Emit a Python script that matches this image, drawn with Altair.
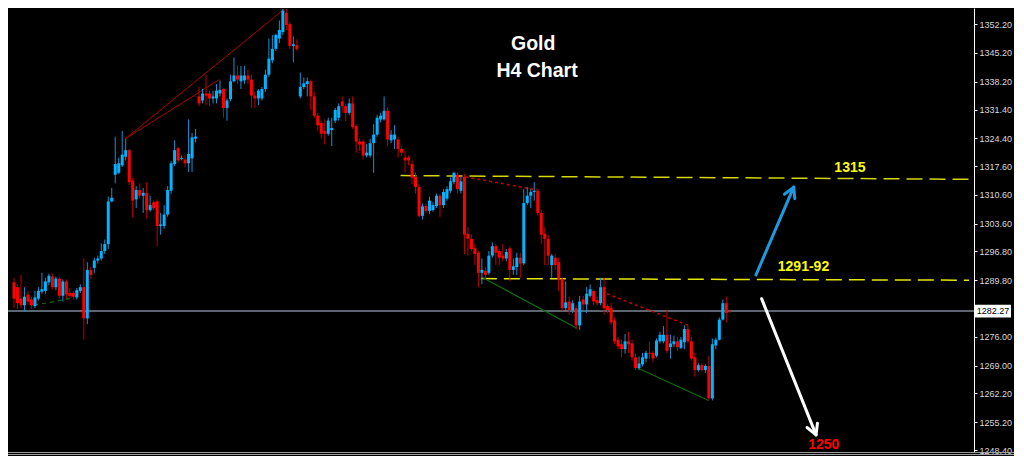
import altair as alt
import pandas as pd

# ---------------- candle data (H4 Gold) ----------------
open_ = [1289.3,1288.1,1285.3,1283.7,1286.3,1285.1,1283.5,1285.3,1287.0,1287.2,
         1289.3,1290.7,1288.1,1290.2,1286.0,1289.5,1286.7,1286.7,1285.6,1287.2,
         1288.1,1280.5,1292.3,1292.8,1294.6,1295.1,1296.9,1298.6,1309.0,1315.5,
         1316.0,1317.8,1319.9,1321.5,1314.1,1309.5,1311.8,1310.4,1311.1,1306.9,
         1308.8,1309.0,1303.0,1303.0,1305.8,1311.6,1318.1,1322.0,1319.4,1319.2,
         1318.3,1319.5,1324.3,1334.6,1333.6,1335.3,1335.3,1334.1,1334.1,1335.3,
         1336.4,1331.8,1333.9,1338.3,1339.7,1338.3,1338.5,1339.7,1338.7,1334.8,
         1334.1,1334.1,1336.4,1339.9,1343.4,1346.2,1348.7,1350.3,1355.0,1352.2,
         1346.9,1347.1,1334.6,1336.9,1337.6,1338.3,1334.6,1329.9,1328.1,1326.2,
         1325.5,1326.4,1328.7,1329.4,1333.4,1332.2,1330.6,1332.9,1327.4,1323.6,
         1323.6,1320.2,1320.2,1323.2,1325.3,1329.0,1329.0,1331.1,1323.9,1324.1,
         1324.1,1321.8,1319.7,1319.7,1318.1,1315.0,1312.5,1305.5,1307.9,1306.7,
         1306.9,1307.9,1310.4,1308.1,1309.7,1311.6,1313.7,1315.5,1311.6,1315.0,
         1301.1,1299.9,1297.6,1296.5,1291.6,1292.1,1291.6,1295.8,1298.1,1296.9,
         1295.8,1295.1,1297.6,1292.3,1293.0,1295.3,1293.9,1308.6,1310.4,1311.3,
         1311.6,1306.2,1301.1,1299.9,1293.5,1295.3,1294.2,1290.0,1283.0,1284.6,
         1282.5,1283.0,1278.8,1285.1,1283.9,1286.0,1287.2,1284.9,1284.2,1288.1,
         1283.5,1283.0,1280.0,1275.3,1274.2,1273.0,1274.9,1274.4,1271.0,1268.4,
         1269.3,1270.7,1272.1,1272.1,1271.4,1274.9,1274.9,1276.5,1273.5,1274.2,
         1274.9,1273.3,1274.7,1277.9,1274.9,1271.0,1267.9,1269.1,1267.9,1268.9,
         1261.0,1273.9,1275.3,1280.2,1284.2,1282.4]

high = [1290.4,1288.8,1291.1,1288.1,1287.2,1285.8,1287.2,1288.1,1291.6,1290.4,
        1291.4,1291.4,1290.7,1290.7,1290.0,1290.0,1287.9,1287.2,1287.9,1288.8,
        1295.1,1294.2,1293.0,1295.3,1295.8,1298.8,1299.7,1310.2,1312.3,1324.8,
        1319.7,1326.2,1324.3,1321.8,1314.8,1312.7,1313.4,1312.3,1313.7,1310.4,
        1309.2,1309.5,1306.2,1308.1,1312.7,1318.8,1323.9,1322.3,1320.2,1320.2,
        1329.0,1325.7,1326.7,1336.9,1336.4,1339.9,1336.0,1336.0,1337.6,1338.5,
        1336.6,1334.1,1339.9,1344.1,1342.2,1342.0,1342.0,1341.1,1339.9,1335.7,
        1336.4,1336.9,1341.1,1348.7,1349.6,1349.9,1353.1,1355.9,1355.9,1352.7,
        1349.2,1348.5,1340.4,1339.2,1339.2,1338.7,1335.7,1330.6,1328.7,1329.0,
        1329.4,1329.4,1331.8,1332.9,1334.6,1332.9,1334.1,1334.6,1327.8,1324.3,
        1324.1,1323.0,1324.3,1327.8,1330.1,1330.6,1334.6,1332.0,1326.4,1327.6,
        1324.8,1322.5,1321.3,1320.2,1319.0,1316.2,1313.2,1308.5,1308.5,1310.2,
        1308.8,1310.9,1310.9,1312.0,1312.7,1314.8,1316.2,1316.0,1315.0,1315.7,
        1302.7,1300.9,1298.6,1296.9,1295.1,1293.0,1296.9,1299.0,1298.6,1297.4,
        1298.6,1297.4,1298.1,1295.1,1296.5,1296.5,1312.0,1312.5,1312.0,1313.7,
        1312.0,1306.9,1302.7,1300.9,1296.2,1296.2,1295.3,1290.4,1289.5,1285.8,
        1284.9,1283.7,1286.0,1286.0,1288.1,1288.8,1287.6,1285.8,1290.4,1290.4,
        1283.9,1284.2,1280.7,1276.0,1275.3,1276.7,1277.2,1275.3,1271.9,1271.2,
        1272.1,1272.6,1274.9,1272.6,1275.6,1277.2,1278.6,1282.6,1276.5,1276.3,
        1276.0,1276.0,1278.8,1278.8,1276.0,1272.1,1269.6,1269.6,1269.3,1271.4,
        1275.6,1275.8,1280.7,1285.1,1285.8,1282.6]

low = [1283.0,1282.8,1283.0,1282.1,1283.9,1282.8,1283.0,1284.9,1286.5,1286.5,
       1288.6,1287.6,1287.4,1285.3,1284.6,1285.3,1285.3,1285.1,1285.1,1286.7,
       1275.3,1279.1,1290.0,1291.6,1293.9,1294.6,1296.2,1297.4,1308.8,1313.4,
       1315.7,1317.4,1319.0,1313.0,1305.1,1307.4,1309.7,1306.2,1304.8,1306.5,
       1306.9,1298.1,1300.9,1302.3,1305.3,1310.9,1317.6,1318.5,1319.0,1317.4,
       1316.2,1316.2,1323.4,1332.2,1332.9,1332.5,1332.2,1332.9,1332.9,1334.6,
       1329.4,1328.7,1333.4,1338.0,1337.6,1336.4,1337.6,1337.6,1331.8,1331.8,
       1332.5,1333.6,1335.7,1339.4,1342.7,1345.7,1347.6,1349.6,1350.8,1346.2,
       1342.9,1345.7,1334.1,1336.4,1334.6,1331.3,1329.4,1326.4,1324.3,1322.9,
       1325.0,1322.5,1328.1,1328.7,1330.6,1328.5,1330.1,1326.7,1320.9,1321.3,
       1319.2,1319.7,1319.7,1316.0,1324.8,1328.3,1328.7,1322.5,1323.2,1321.8,
       1319.7,1320.2,1316.0,1317.8,1313.2,1310.9,1305.1,1304.6,1306.2,1305.9,
       1306.5,1307.4,1305.1,1307.4,1309.2,1311.1,1313.2,1310.9,1310.9,1296.2,
       1295.8,1296.9,1293.5,1288.1,1288.8,1290.0,1291.1,1295.3,1293.5,1293.5,
       1294.4,1294.4,1289.5,1291.1,1291.1,1290.4,1293.5,1308.1,1307.4,1309.2,
       1305.5,1298.6,1293.5,1293.5,1290.4,1292.3,1287.2,1282.3,1282.3,1281.4,
       1281.8,1277.9,1277.7,1282.5,1281.8,1285.6,1283.7,1283.7,1283.7,1281.4,
       1281.8,1278.8,1274.2,1273.0,1271.0,1271.9,1272.1,1270.2,1267.9,1267.9,
       1268.8,1269.8,1270.7,1269.8,1271.0,1274.4,1274.4,1272.1,1270.7,1273.5,
       1272.6,1273.0,1273.0,1274.4,1270.2,1266.3,1267.5,1267.5,1267.2,1260.5,
       1260.5,1273.0,1275.1,1280.0,1279.5,1281.8]

close = [1285.3,1284.2,1283.7,1285.8,1284.6,1283.7,1285.6,1287.2,1287.6,1289.5,
         1290.9,1288.1,1290.2,1286.0,1289.5,1286.3,1286.0,1285.8,1287.4,1288.1,
         1280.5,1292.3,1291.1,1294.6,1295.1,1296.9,1298.6,1309.0,1309.9,1318.1,
         1318.3,1320.4,1321.5,1313.7,1309.2,1311.8,1310.4,1311.1,1306.9,1308.1,
         1307.4,1303.0,1303.4,1305.8,1311.8,1318.3,1321.5,1319.0,1319.6,1318.3,
         1320.6,1324.6,1324.8,1332.9,1335.3,1334.8,1334.1,1334.6,1336.0,1336.2,
         1331.8,1333.6,1338.3,1339.7,1338.7,1339.7,1339.7,1338.7,1334.8,1334.1,
         1336.0,1336.4,1339.9,1343.8,1346.2,1349.6,1350.8,1355.5,1352.0,1346.9,
         1347.3,1346.2,1336.9,1337.8,1338.3,1334.6,1329.9,1327.6,1325.5,1325.5,
         1328.7,1326.9,1331.3,1332.2,1332.2,1330.6,1332.9,1327.1,1323.6,1322.9,
         1320.2,1320.9,1323.2,1325.3,1329.4,1329.9,1331.1,1324.1,1325.3,1325.3,
         1321.8,1320.9,1319.0,1319.0,1314.8,1312.5,1305.5,1307.8,1306.7,1309.2,
         1308.1,1310.4,1308.1,1311.3,1312.0,1313.9,1316.0,1312.0,1313.9,1300.9,
         1299.9,1297.4,1296.2,1291.6,1292.3,1291.1,1295.8,1298.1,1296.5,1295.3,
         1295.1,1296.7,1292.3,1293.2,1295.3,1293.9,1308.6,1310.4,1311.3,1311.6,
         1306.2,1300.9,1299.9,1295.8,1295.8,1293.5,1290.0,1283.0,1284.4,1282.5,
         1284.2,1278.8,1284.6,1283.9,1286.5,1287.6,1284.6,1284.2,1288.1,1283.0,
         1282.5,1279.5,1274.9,1273.7,1273.0,1274.9,1274.2,1271.0,1268.4,1269.5,
         1271.0,1272.1,1271.9,1270.7,1275.1,1276.5,1276.5,1272.6,1274.4,1274.9,
         1273.5,1275.3,1277.9,1274.9,1270.7,1267.9,1269.1,1267.9,1268.9,1261.0,
         1274.2,1275.3,1280.2,1284.2,1281.8,1282.27]

# price-axis tick labels and current price
tick_values = [1352.20, 1345.20, 1338.20, 1331.40, 1324.40, 1317.60, 1310.60, 1303.60,
               1296.80, 1289.80, 1276.00, 1269.00, 1262.20, 1255.20, 1248.40]
last_price = 1282.27

# annotation lines: [bar index start, end], [price start, end]
trend_up_a_x, trend_up_a_y = [31.9, 77.4], [1324.3, 1355.9]
trend_up_b_x, trend_up_b_y = [31.9, 58.8], [1324.3, 1338.7]
dotted_1_x, dotted_1_y = [129.3, 149.8], [1315.0, 1311.8]
dotted_2_x, dotted_2_y = [169.8, 193.1], [1286.5, 1278.8]
green_1_x, green_1_y = [134.3, 161.2], [1290.4, 1278.1]
green_2_x, green_2_y = [178.6, 198.9], [1268.4, 1260.5]
green_d_x, green_d_y = [5.8, 15.8], [1283.7, 1285.3]
level_1315_x, level_1315_y = [110.7, 273.5], [1315.3, 1314.4]
level_1291_x, level_1291_y = [133.7, 273.5], [1290.2, 1289.8]
arrow_up_x, arrow_up_y = [212.5, 223.3], [1291.1, 1312.5]
arrow_dn_x, arrow_dn_y = [214.1, 229.7], [1285.3, 1252.1]

# ---------------- layout ----------------
W, H = 966, 444
xs = alt.Scale(domain=[-0.28, 273.5], nice=False, zero=False)
ys = alt.Scale(domain=[1247.93, 1356.15], nice=False, zero=False)

yaxis = alt.Axis(orient="right", values=tick_values, format=".2f", labelColor="#d8d8d8",
                 labelFont="Liberation Sans", labelFontSize=9, domainColor="#ffffff",
                 tickColor="#ffffff", tickSize=3, labelPadding=2, grid=False,
                 labelOverlap=False, labelFlush=False, title=None)


def X(f):
    return alt.X(f, type="quantitative", scale=xs, axis=None)


def Y(f):
    return alt.Y(f, type="quantitative", scale=ys, axis=yaxis)


df = pd.DataFrame({"i": list(range(len(open_))), "o": open_, "h": high, "l": low, "c": close})

up = alt.datum.c >= alt.datum.o

wicks = alt.Chart(df).mark_rule(strokeWidth=1).encode(
    x=X("i"),
    y=Y("l"),
    y2="h",
    color=alt.condition(up, alt.value("#1b8fd2"), alt.value("#c00000")),
)

bodies = alt.Chart(df).mark_bar(width=3).encode(
    x=X("i"),
    y=Y("o"),
    y2="c",
    color=alt.condition(up, alt.value("#00b4ff"), alt.value("#ff0000")),
)


def seg(xv, yv, color, width=1.0, dash=None, cap="butt"):
    d = pd.DataFrame({"i": xv, "p": yv})
    kw = dict(color=color, strokeWidth=width, strokeCap=cap)
    if dash:
        kw["strokeDash"] = dash
    return alt.Chart(d).mark_line(**kw).encode(x=X("i"), y=Y("p"))


def head(xv, yv, color, angle):
    d = pd.DataFrame({"i": [xv], "p": [yv]})
    return alt.Chart(d).mark_point(shape="M -0.55 1 L 0 0 L 0.55 1", size=420, filled=False,
                                   strokeWidth=3, color=color, angle=angle, opacity=1,
                                   strokeCap="round", strokeJoin="round").encode(x=X("i"), y=Y("p"))


def label(xv, yv, text, color, size):
    d = pd.DataFrame({"i": [xv], "p": [yv], "t": [text]})
    return alt.Chart(d).mark_text(color=color, fontSize=size, fontWeight="bold",
                                  font="Liberation Sans", align="center",
                                  baseline="middle").encode(x=X("i"), y=Y("p"), text="t:N")


price_df = pd.DataFrame({"p": [last_price]})
price_line = alt.Chart(price_df).mark_rule(color="#7b8896", strokeWidth=1.5).encode(y=Y("p"))

price_box = alt.Chart(price_df).mark_point(
    shape="M -1 -0.36 L 1 -0.36 L 1 0.36 L -1 0.36 Z", size=1296, filled=True,
    color="#ffffff", opacity=1, strokeWidth=0).encode(x=alt.value(W + 19), y=Y("p"))
price_txt = alt.Chart(price_df).mark_text(color="#000000", fontSize=9, font="Liberation Sans",
                                          align="center", baseline="middle").encode(
    x=alt.value(W + 19), y=Y("p"), text=alt.Text("p:Q", format=".2f"))

base_df = pd.DataFrame({"k": [0]})
bottom1 = alt.Chart(base_df).mark_rule(color="#9c9c9c", strokeWidth=1).encode(
    x=alt.value(0), x2=alt.value(W + 40), y=alt.value(H + 0.5))
bottom2 = alt.Chart(base_df).mark_rule(color="#9c9c9c", strokeWidth=1).encode(
    x=alt.value(0), x2=alt.value(W + 40), y=alt.value(H + 2.5))

layers = [
    price_line,
    seg(level_1315_x, level_1315_y, "#d6d600", 1.5, [16, 7]),
    seg(level_1291_x, level_1291_y, "#e6e600", 1.5, [16, 7]),
    seg(trend_up_a_x, trend_up_a_y, "#b00000", 1.0),
    seg(trend_up_b_x, trend_up_b_y, "#b00000", 1.0),
    seg(dotted_1_x, dotted_1_y, "#c80000", 1.5, [3, 3]),
    seg(dotted_2_x, dotted_2_y, "#c80000", 1.5, [3, 3]),
    seg(green_1_x, green_1_y, "#0b6e0b", 1.2),
    seg(green_2_x, green_2_y, "#0b6e0b", 1.2),
    seg(green_d_x, green_d_y, "#0b6e0b", 1.2, [4, 4]),
    wicks,
    bodies,
    seg(arrow_up_x, arrow_up_y, "#1e9be0", 3, cap="round"),
    head(arrow_up_x[1], arrow_up_y[1], "#1e9be0", 23.5),
    seg(arrow_dn_x, arrow_dn_y, "#ffffff", 3, cap="round"),
    head(arrow_dn_x[1], arrow_dn_y[1], "#ffffff", 158),
    label(148.7, 1347.3, "Gold", "#ffffff", 19.5),
    label(149.8, 1340.8, "H4 Chart", "#ffffff", 19.5),
    label(239.4, 1317.1, "1315", "#ffff00", 14),
    label(226.1, 1293.0, "1291-92", "#ffff00", 14),
    label(231.9, 1249.6, "1250", "#ff0000", 14),
    price_box,
    price_txt,
    bottom1,
    bottom2,
]

chart = alt.layer(*layers).properties(
    width=W, height=H, background="#000000",
    padding={"left": 0, "top": 0, "right": 40, "bottom": 4},
    autosize=alt.AutoSizeParams(type="none"),
).configure_view(strokeWidth=0)

chart.save("out.html", embed_options={"renderer": "svg", "actions": False})
